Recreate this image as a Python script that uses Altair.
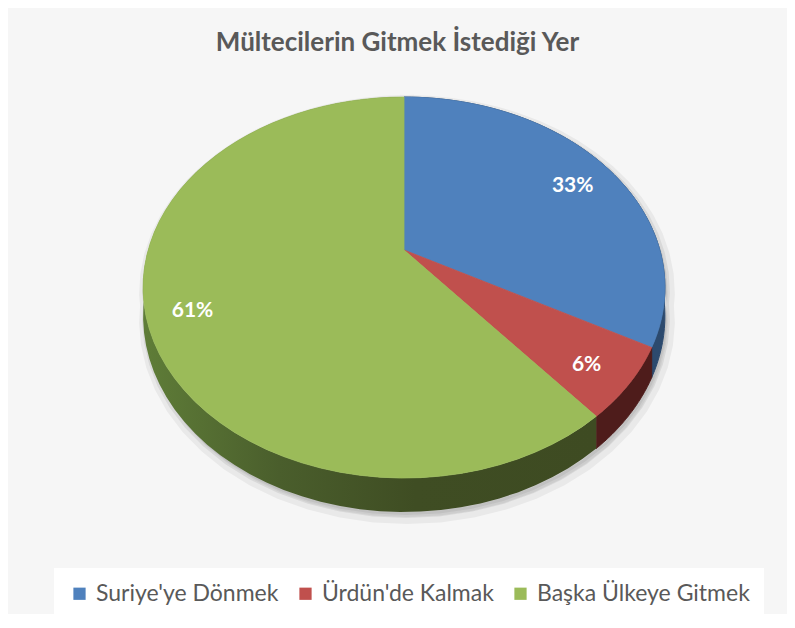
import altair as alt
import pandas as pd

# ---- data ----
categories = ["Suriye'ye Dönmek", "Ürdün'de Kalmak", "Başka Ülkeye Gitmek"]
values = [33, 6, 61]
top_colors = ["#4f81bd", "#c0504d", "#9bbb59"]
side_colors = ["#2c4a6e", "#4e1c1b", "#44552a"]

# ---- layout constants (pixels inside the plot area) ----
W, H = 779, 538
CX, CY = 396, 174          # pie centre (projected)
A, B, P = 255.8, 183.1, 0.197   # perspective ellipse parameters
DEPTH = 27.3               # thickness of the 3D side
N = 60                     # points per arc
LABEL_R = 0.83

df = pd.DataFrame({
    "category": categories,
    "value": values,
    "idx": list(range(len(categories))),
    "top": top_colors,
    "side": side_colors,
})

xs = alt.X("px:Q", scale=alt.Scale(domain=[0, W], nice=False, zero=False), axis=None)
ys = alt.Y("py:Q", scale=alt.Scale(domain=[H, 0], nice=False, zero=False), axis=None)

base = (
    alt.Chart(df)
    .transform_window(cum="sum(value)", sort=[alt.SortField("idx", order="ascending")], frame=[None, 0])
    .transform_joinaggregate(total="sum(value)")
    .transform_calculate(start="(datum.cum - datum.value) / datum.total")
    .transform_calculate(end="datum.cum / datum.total")
)


def project(chart, r_expr, th_expr, drop_expr="0"):
    return (
        chart.transform_calculate(th=th_expr)
        .transform_calculate(rr=r_expr)
        .transform_calculate(X="datum.rr * sin(datum.th)")
        .transform_calculate(Z="datum.rr * cos(datum.th)")
        .transform_calculate(q=f"1 + {P} * datum.Z")
        .transform_calculate(px=f"{CX} + {A} * datum.X / datum.q")
        .transform_calculate(py=f"{CY} - {B} * datum.Z / datum.q + ({drop_expr}) * {DEPTH} / datum.q")
    )


def side_geometry(src):
    s = (
        src.transform_calculate(k=f"sequence(0, {2 * N + 2})")
        .transform_flatten(["k"])
        .transform_calculate(j=f"datum.k <= {N} ? datum.k : {2 * N + 1} - datum.k")
        .transform_calculate(bot=f"datum.k > {N} ? 1 : 0")
    )
    return project(
        s,
        "1",
        f"2 * PI * (datum.start + (datum.end - datum.start) * datum.j / {N})",
        "datum.bot",
    )


# soft drop shadow: whole pie outline
shadow_src = (
    base.transform_filter("datum.idx == 0")
    .transform_calculate(start="0")
    .transform_calculate(end="1")
)
shadow_geo = side_geometry(shadow_src)
shadow_enc = dict(x=xs, y=ys, order=alt.Order("k:Q"))
shadow1 = shadow_geo.mark_line(
    interpolate="linear-closed", fill="#000000", fillOpacity=0.05,
    stroke="#000000", strokeOpacity=0.05, strokeWidth=14, xOffset=3, yOffset=5,
).encode(**shadow_enc)
shadow2 = shadow_geo.mark_line(
    interpolate="linear-closed", fill="#000000", fillOpacity=0.06,
    stroke="#000000", strokeOpacity=0.07, strokeWidth=6, xOffset=2, yOffset=3,
).encode(**shadow_enc)

# side (3D wall) polygons
side_geo = side_geometry(base)
side = side_geo.transform_filter("datum.idx != 2").mark_line(
    interpolate="linear-closed", strokeWidth=1
).encode(
    x=xs, y=ys,
    order=alt.Order("k:Q"),
    detail="category:N",
    fill=alt.Fill("side:N", scale=None),
    stroke=alt.Stroke("side:N", scale=None),
)
green_grad = alt.LinearGradient(
    gradient="linear", x1=0, x2=1, y1=0, y2=0,
    stops=[
        alt.GradientStop(color="#5f7d38", offset=0),
        alt.GradientStop(color="#4a5e2c", offset=0.3),
        alt.GradientStop(color="#3f4d23", offset=0.6),
        alt.GradientStop(color="#3e4b22", offset=1),
    ],
)
side_green = side_geo.transform_filter("datum.idx == 2").mark_line(
    interpolate="linear-closed", strokeWidth=0, fill=green_grad
).encode(x=xs, y=ys, order=alt.Order("k:Q"))

# top face polygons
top_src = (
    base.transform_calculate(k=f"sequence(-1, {N + 1})")
    .transform_flatten(["k"])
)
top = project(
    top_src,
    "datum.k < 0 ? 0 : 1",
    f"2 * PI * (datum.start + (datum.end - datum.start) * max(datum.k, 0) / {N})",
).mark_line(interpolate="linear-closed", strokeWidth=0.8).encode(
    x=xs, y=ys,
    order=alt.Order("k:Q"),
    detail="category:N",
    fill=alt.Fill("top:N", scale=None),
    stroke=alt.Stroke("top:N", scale=None),
)

# label positions
lab_src = base.transform_calculate(label="format(datum.value / datum.total, '.0%')")
lab_pos = project(lab_src, f"{LABEL_R}", "PI * (datum.start + datum.end)")

legend_pts = lab_pos.mark_square(size=60, opacity=1).encode(
    x=xs, y=ys,
    color=alt.Color(
        "category:N",
        scale=alt.Scale(domain=categories, range=top_colors),
        legend=alt.Legend(
            title=None,
            orient="none",
            legendX=46,
            legendY=492,
            direction="horizontal",
            symbolType="square",
            symbolSize=150,
            symbolStrokeWidth=0,
            labelFont="Lato",
            labelFontSize=23,
            labelColor="#595959",
            labelOffset=5,
            labelLimit=0,
            columnPadding=15,
            padding=14,
            fillColor="white",
        ),
    ),
)

labels = lab_pos.mark_text(
    font="Lato", fontSize=21, fontWeight="bold", color="white", dy=7
).encode(x=xs, y=ys, text="label:N")

chart = (
    alt.layer(legend_pts, shadow1, shadow2, side, side_green, top, labels)
    .properties(
        width=W,
        height=H,
        autosize=alt.AutoSizeParams(type="none"),
        padding={"top": 68, "left": 0, "right": 0, "bottom": 0},
        background="#f6f6f6",
        title=alt.Title(
            "Mültecilerin Gitmek İstediği Yer",
            font="Lato",
            fontSize=26,
            fontWeight="bold",
            color="#595959",
            anchor="middle",
            offset=18,
        ),
    )
    .configure_view(stroke=None)
)

chart.save("out.html", embed_options={"renderer": "svg", "actions": False})
